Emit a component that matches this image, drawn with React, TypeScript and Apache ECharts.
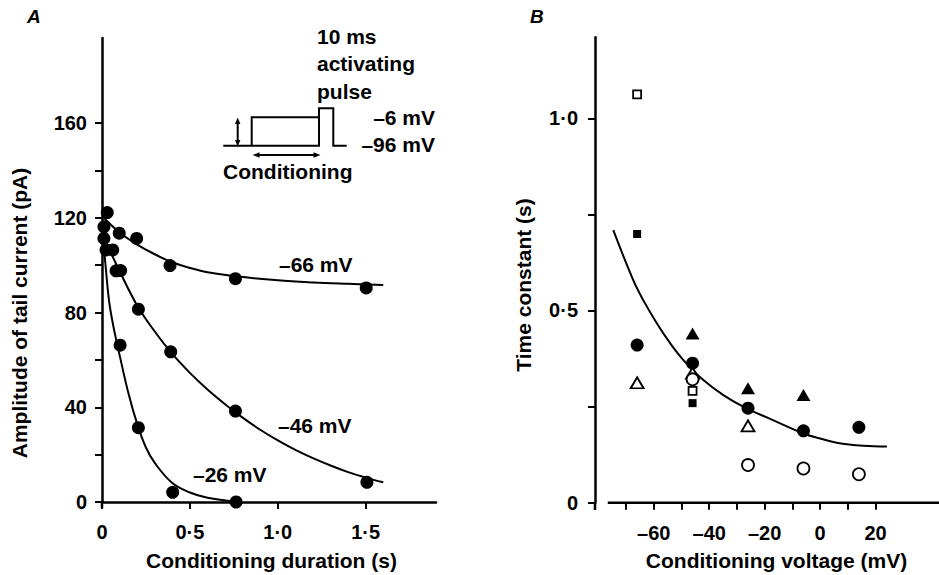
import React, { useEffect, useRef } from "react";
import * as echarts from "echarts";

// ---------- Panel A: amplitude of tail current vs conditioning duration ----------
const pointsA66 = [[0.011, 116.2], [0.03, 122.2], [0.098, 113.5], [0.197, 111.3], [0.387, 99.8], [0.759, 94.3], [1.503, 90.4]];
const pointsA46 = [[0.011, 111.3], [0.061, 106.4], [0.106, 97.7], [0.207, 81.4], [0.391, 63.4], [0.759, 38.4], [1.507, 8.3]];
const pointsA26 = [[0.023, 106.4], [0.08, 97.6], [0.103, 66.2], [0.207, 31.4], [0.402, 4.1], [0.763, 0]];

const fitA66 = [[0.01, 120], [0.1, 113.8], [0.2, 108.7], [0.3, 104.6], [0.4, 101.2], [0.5, 98.8], [0.6, 97], [0.76, 95.3], [1.0, 93.6], [1.2, 92.7], [1.4, 92.1], [1.6, 91.6]];
const fitA46 = [[0.005, 112.5], [0.1, 97.5], [0.2, 83], [0.3, 72], [0.4, 62.5], [0.5, 54.5], [0.6, 47.5], [0.7, 41.3], [0.8, 35.6], [0.9, 30.5], [1.0, 26], [1.1, 22], [1.2, 18.5], [1.3, 15.4], [1.4, 12.6], [1.5, 10.3], [1.6, 8.3]];
const fitA26 = [[0.005, 112], [0.02, 100], [0.04, 85], [0.06, 76], [0.085, 67], [0.1, 62], [0.15, 46], [0.2, 33], [0.25, 23], [0.3, 16.5], [0.4, 8], [0.5, 4], [0.6, 1.8], [0.76, 0.2]];

const xTicksA = [0, 0.5, 1, 1.5];
const yTicksA = [0, 20, 40, 60, 80, 100, 120, 140, 160];
const yLabelsA = [0, 40, 80, 120, 160];

// ---------- Panel B: time constant vs conditioning voltage ----------
const filledCirclesB = [[-66, 0.41], [-46, 0.363], [-26, 0.246], [-6, 0.187], [14, 0.196]];
const openCirclesB = [[-46, 0.321], [-26, 0.098], [-6, 0.089], [14, 0.074]];
const filledTrianglesB = [[-46, 0.44], [-26, 0.298], [-6, 0.28]];
const openTrianglesB = [[-66, 0.312], [-46, 0.337], [-26, 0.2]];
const openSquaresB = [[-66, 1.062], [-46, 0.291]];
const filledSquaresB = [[-66, 0.699], [-46, 0.259]];
const fitB = [[-74.6, 0.709], [-67.4, 0.579], [-63.8, 0.527], [-58.9, 0.467], [-54.1, 0.415], [-49.3, 0.371], [-42.1, 0.319], [-34.9, 0.28], [-26.7, 0.246], [-18, 0.218], [-6, 0.18], [0, 0.167], [6, 0.156], [15.6, 0.148], [24.1, 0.146]];
const xAxisLineB = [[-76.6, 0], [42.9, 0]];

const xTicksB = [-70, -60, -50, -40, -30, -20, -10, 0, 10, 20];
const xLabelsB = [-60, -40, -20, 0, 20];
const yTicksB = [0, 0.25, 0.5, 0.75, 1];
const yLabelsB = [0, 0.5, 1];

const FONT = '"Liberation Sans", Arial, Helvetica, sans-serif';
const BLACK = "#000";

const dotFmt = (v: number) => (v === 0 ? "0" : v.toFixed(1).replace(".", "\u00b7"));
const dashFmt = (v: number) => (v < 0 ? "\u2013" + Math.abs(v) : String(v));

const tickLabelStyle = {
  color: BLACK,
  fontFamily: FONT,
  fontWeight: "bold" as const,
  fontSize: 20,
};

function txt(text: string, x: number, y: number, align = "left", extra: any = {}) {
  return {
    type: "text",
    x,
    y,
    silent: true,
    ...extra,
    style: {
      text,
      fill: BLACK,
      font: `bold 21px ${FONT}`,
      align,
      verticalAlign: "middle",
      ...(extra.style || {}),
    },
  };
}

function lineEl(x1: number, y1: number, x2: number, y2: number, w = 2) {
  return {
    type: "line",
    silent: true,
    shape: { x1, y1, x2, y2 },
    style: { stroke: BLACK, lineWidth: w },
  };
}

function arrowHead(points: number[][]) {
  return { type: "polygon", silent: true, shape: { points }, style: { fill: BLACK } };
}

export default function App() {
  const ref = useRef<HTMLDivElement>(null);

  useEffect(() => {
    if (!ref.current) return;
    const chart = echarts.init(ref.current, null, { renderer: "svg" });

    const dotSeries = (data: number[][], xi: number, size: any, symbol = "circle", open = false, z = 5) => ({
      type: "scatter",
      xAxisIndex: xi,
      yAxisIndex: xi,
      data,
      symbol,
      symbolSize: size,
      z,
      itemStyle: open
        ? { color: "#fff", borderColor: BLACK, borderWidth: 1.8, opacity: 1 }
        : { color: BLACK, opacity: 1 },
      emphasis: { disabled: true },
    });

    const fitSeries = (data: number[][], xi: number) => ({
      type: "line",
      xAxisIndex: xi,
      yAxisIndex: xi,
      data,
      smooth: 0.4,
      symbol: "none",
      clip: false,
      z: 3,
      lineStyle: { color: BLACK, width: 2 },
      emphasis: { disabled: true },
    });

    const option: any = {
      animation: false,
      backgroundColor: "#fff",
      grid: [
        { left: 102, top: 38, width: 334, height: 464 },
        { left: 595, top: 37.3, width: 344, height: 465.4 },
      ],
      xAxis: [
        {
          type: "value",
          gridIndex: 0,
          min: 0,
          max: 1.9,
          splitLine: { show: false },
          axisLine: { show: true, onZero: false, lineStyle: { color: BLACK, width: 2.5 } },
          axisTick: { show: true, length: 7, customValues: xTicksA, lineStyle: { color: BLACK, width: 2 } },
          axisLabel: { ...tickLabelStyle, margin: 20, customValues: xTicksA, formatter: dotFmt },
        },
        {
          type: "value",
          gridIndex: 1,
          min: -81.2,
          max: 42.9,
          splitLine: { show: false },
          axisLine: { show: false, onZero: false },
          axisTick: { show: true, length: 7, customValues: xTicksB, lineStyle: { color: BLACK, width: 2 } },
          axisLabel: { ...tickLabelStyle, margin: 20, customValues: xLabelsB, formatter: dashFmt },
        },
      ],
      yAxis: [
        {
          type: "value",
          gridIndex: 0,
          min: 0,
          max: 195.9,
          splitLine: { show: false },
          axisLine: { show: true, onZero: false, lineStyle: { color: BLACK, width: 2.5 } },
          axisTick: { show: true, length: 7, customValues: yTicksA, lineStyle: { color: BLACK, width: 2 } },
          axisLabel: { ...tickLabelStyle, margin: 15, customValues: yLabelsA },
        },
        {
          type: "value",
          gridIndex: 1,
          min: 0,
          max: 1.2107,
          splitLine: { show: false },
          axisLine: { show: true, onZero: false, lineStyle: { color: BLACK, width: 2.5 } },
          axisTick: { show: true, length: 7, customValues: yTicksB, lineStyle: { color: BLACK, width: 2 } },
          axisLabel: { ...tickLabelStyle, margin: 17, customValues: yLabelsB, formatter: dotFmt },
        },
      ],
      series: [
        fitSeries(fitA66, 0),
        fitSeries(fitA46, 0),
        fitSeries(fitA26, 0),
        dotSeries(pointsA66, 0, 13),
        dotSeries(pointsA46, 0, 13),
        dotSeries(pointsA26, 0, 13),
        {
          type: "line",
          xAxisIndex: 1,
          yAxisIndex: 1,
          data: xAxisLineB,
          symbol: "none",
          clip: false,
          z: 2,
          lineStyle: { color: BLACK, width: 2.5 },
          emphasis: { disabled: true },
        },
        fitSeries(fitB, 1),
        dotSeries(filledTrianglesB, 1, [14, 12], "triangle", false, 5),
        dotSeries(filledCirclesB, 1, 13, "circle", false, 5),
        dotSeries(openTrianglesB, 1, [13, 11], "triangle", true, 6),
        dotSeries(openCirclesB, 1, 12, "circle", true, 7),
        dotSeries(openSquaresB, 1, 8, "rect", true, 6),
        dotSeries(filledSquaresB, 1, 8, "rect", false, 6),
      ],
      graphic: [
        // panel letters
        txt("A", 27, 16, "left", { style: { font: `italic bold 19px ${FONT}` } }),
        txt("B", 530, 16, "left", { style: { font: `italic bold 19px ${FONT}` } }),
        // axis stubs below the origin
        lineEl(102, 501, 102, 508, 2.5),
        lineEl(595, 502, 595, 510, 2.5),
        // axis titles
        txt("Conditioning duration (s)", 271.5, 560, "center"),
        txt("Conditioning voltage (mV)", 776.5, 560, "center"),
        txt("Amplitude of tail current (pA)", 19, 313, "center", { rotation: Math.PI / 2 }),
        txt("Time constant (s)", 523, 285, "center", { rotation: Math.PI / 2 }),
        // curve labels
        txt("\u201366 mV", 279, 264),
        txt("\u201346 mV", 278, 425),
        txt("\u201326 mV", 193, 474),
        // inset protocol
        txt("10 ms", 317, 36),
        txt("activating", 317, 63),
        txt("pulse", 317, 91),
        txt("\u20136 mV", 435, 117, "right"),
        txt("\u201396 mV", 435, 144, "right"),
        txt("Conditioning", 223, 171),
        {
          type: "polyline",
          silent: true,
          shape: { points: [[223.3, 145.7], [319, 145.7], [319, 108.3], [333.3, 108.3], [333.3, 145.7], [346.7, 145.7]] },
          style: { stroke: BLACK, lineWidth: 2, fill: null },
        },
        {
          type: "polyline",
          silent: true,
          shape: { points: [[251.7, 145.7], [251.7, 117.3], [319, 117.3]] },
          style: { stroke: BLACK, lineWidth: 2, fill: null },
        },
        lineEl(237.7, 121, 237.7, 143),
        arrowHead([[237.7, 117.5], [235, 124], [240.4, 124]]),
        arrowHead([[237.7, 146.5], [235, 140], [240.4, 140]]),
        lineEl(256, 155, 317, 155),
        arrowHead([[252.5, 155], [259.5, 152.3], [259.5, 157.7]]),
        arrowHead([[320.5, 155], [313.5, 152.3], [313.5, 157.7]]),
      ],
    };

    chart.setOption(option);
    return () => chart.dispose();
  }, []);

  return (
    <div
      ref={ref}
      style={{ position: "fixed", left: 0, top: 0, width: 939, height: 575, background: "#fff" }}
    />
  );
}
